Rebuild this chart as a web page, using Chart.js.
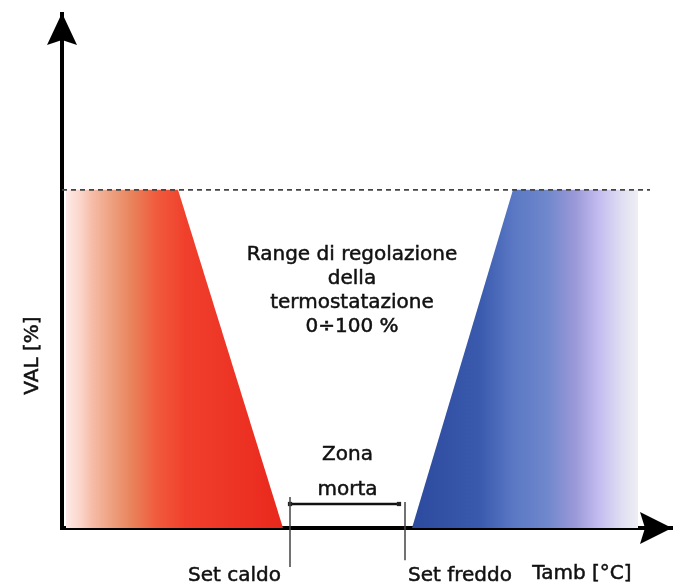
<!DOCTYPE html>
<html>
<head>
<meta charset="utf-8">
<script src="https://cdn.jsdelivr.net/npm/chart.js@4/dist/chart.umd.min.js"></script>
<style>
  html, body { margin: 0; padding: 0; background: #fff; }
  #wrap { width: 679px; height: 586px; position: relative; }
</style>
</head>
<body>
<div id="wrap"><canvas id="c" width="679" height="586"></canvas></div>
<script>
// ---- data ----
const xRange = [0, 61];            // Tamb axis (arbitrary units)
const yRange = [0, 152];           // VAL [%] axis
const rangeMax = 100;              // 100 % level (dashed line)
const dashedEnd = 58.8;
const heatX = [0.4, 11.6, 22.1];   // heating ramp
const heatY = [100, 100, 0];
const coolX = [35.0, 45.1, 57.6];  // cooling ramp
const coolY = [0, 100, 100];
const setCaldo = 22.8;
const setFreddo = 34.3;
const setCaldoLineY = [9.2, -11.5];
const setFreddoLineY = [7.7, -9.5];
const deadZoneY = 7.1;
const rangeText = ["Range di regolazione", "della", "termostatazione", "0÷100 %"];
const deadZoneText = ["Zona", "morta"];
const labelSetCaldo = "Set caldo";
const labelSetFreddo = "Set freddo";
const xAxisLabel = "Tamb [°C]";
const yAxisLabel = "VAL [%]";

const pts = (xs, ys) => xs.map((x, i) => ({ x: x, y: ys[i] }));

function makeGrad(ctx, x0v, x1v, stops, fallback) {
  const chart = ctx.chart;
  const xs = chart.scales.x;
  if (!chart.chartArea || !xs) return fallback;
  const p0 = xs.getPixelForValue(x0v), p1 = xs.getPixelForValue(x1v);
  if (!isFinite(p0) || !isFinite(p1)) return fallback;
  const g = chart.ctx.createLinearGradient(p0, 0, p1, 0);
  stops.forEach(s => g.addColorStop(s[0], s[1]));
  return g;
}
function heatGradient(ctx) {
  return makeGrad(ctx, heatX[0], heatX[2], [
    [0, '#fdeae6'], [0.07, '#fbd4c8'], [0.12, '#f6bca8'], [0.21, '#eea080'], [0.30, '#e8845c'],
    [0.42, '#f05a3c'], [0.55, '#f0402c'], [0.85, '#ec3022'], [1, '#e8281c']
  ], '#e8402c');
}
function coolGradient(ctx) {
  return makeGrad(ctx, coolX[0], coolX[2], [
    [0, '#2c4a9e'], [0.30, '#3a5aae'], [0.45, '#5a78c4'], [0.60, '#7088cc'],
    [0.72, '#9a98d8'], [0.83, '#c4bdf0'], [0.93, '#e0dff2'], [1, '#eeeef4']
  ], '#5070c0');
}

const FONT = '20px "DejaVu Sans", sans-serif';
const TXT = '#111';

function txt(ctx, t, x, y) {
  ctx.fillText(t, x, y);
  ctx.strokeText(t, x, y);
}

const decor = {
  id: 'decor',
  afterDatasetsDraw(chart) {
    const { ctx, scales: { x, y } } = chart;
    ctx.save();
    ctx.fillStyle = TXT;
    ctx.strokeStyle = TXT;
    ctx.lineWidth = 0.5;
    ctx.font = FONT;
    ctx.textAlign = 'center';
    ctx.textBaseline = 'middle';
    const cx = x.getPixelForValue(29.0);
    const cy = y.getPixelForValue(80.8);
    rangeText.forEach((t, i) => txt(ctx, t, cx, cy + i * 24));
    const dzx = x.getPixelForValue((setCaldo + setFreddo) / 2);
    const dzy = y.getPixelForValue(deadZoneY);
    deadZoneText.forEach((t, i) => txt(ctx, t, dzx, dzy - 49 + i * 35));
    const by = y.getPixelForValue(0) + 48;
    ctx.textAlign = 'right';
    txt(ctx, labelSetCaldo, x.getPixelForValue(setCaldo) - 9, by);
    ctx.textAlign = 'left';
    txt(ctx, labelSetFreddo, x.getPixelForValue(setFreddo) + 3, by);
    ctx.textAlign = 'center';
    txt(ctx, xAxisLabel, x.getPixelForValue(52.0), by - 2);
    ctx.save();
    ctx.translate(33, y.getPixelForValue(51));
    ctx.rotate(-Math.PI / 2);
    txt(ctx, yAxisLabel, 0, 0);
    ctx.restore();
    ctx.restore();
  },
  afterDraw(chart) {
    const { ctx, chartArea: a } = chart;
    ctx.save();
    ctx.fillStyle = '#000';
    const ax = a.left, top = a.top - 1;
    ctx.beginPath();
    ctx.moveTo(ax, top);
    ctx.lineTo(ax - 15, top + 32);
    ctx.lineTo(ax, top + 27);
    ctx.lineTo(ax + 15, top + 32);
    ctx.closePath();
    ctx.fill();
    const ay = a.bottom, right = a.right;
    ctx.beginPath();
    ctx.moveTo(right, ay);
    ctx.lineTo(right - 32, ay - 16);
    ctx.lineTo(right - 27, ay);
    ctx.lineTo(right - 32, ay + 16);
    ctx.closePath();
    ctx.fill();
    ctx.restore();
  }
};

new Chart(document.getElementById('c'), {
  type: 'scatter',
  data: {
    datasets: [
      {
        data: pts(heatX, heatY), showLine: true, fill: 'origin',
        backgroundColor: heatGradient, borderWidth: 0, pointRadius: 0, order: 5
      },
      {
        data: pts(coolX, coolY), showLine: true, fill: 'origin',
        backgroundColor: coolGradient, borderWidth: 0, pointRadius: 0, order: 5
      },
      {
        data: [{ x: xRange[0], y: rangeMax }, { x: dashedEnd, y: rangeMax }], showLine: true,
        borderColor: '#444', borderWidth: 1.8, borderDash: [5, 4], pointRadius: 0, fill: false, order: 1
      },
      {
        data: [{ x: setCaldo, y: setCaldoLineY[0] }, { x: setCaldo, y: setCaldoLineY[1] }], showLine: true,
        borderColor: '#444', borderWidth: 1.5, pointRadius: 0, fill: false, clip: false, order: 1
      },
      {
        data: [{ x: setFreddo, y: setFreddoLineY[0] }, { x: setFreddo, y: setFreddoLineY[1] }], showLine: true,
        borderColor: '#444', borderWidth: 1.5, pointRadius: 0, fill: false, clip: false, order: 1
      },
      {
        data: [{ x: setCaldo, y: deadZoneY }, { x: setFreddo - 0.6, y: deadZoneY }], showLine: true,
        borderColor: '#111', borderWidth: 2.5, pointRadius: 3, pointStyle: 'rect',
        pointBackgroundColor: '#222', pointBorderWidth: 0, fill: false, clip: false, order: 1
      }
    ]
  },
  options: {
    responsive: false,
    animation: false,
    events: [],
    layout: { padding: { left: 62, right: 7, top: 14, bottom: 58 } },
    plugins: { legend: { display: false }, tooltip: { enabled: false } },
    scales: {
      x: {
        type: 'linear', min: xRange[0], max: xRange[1],
        grid: { display: false, drawTicks: false },
        ticks: { display: false },
        border: { display: true, color: '#000', width: 4 },
        afterFit: s => { s.height = 0; }
      },
      y: {
        type: 'linear', min: yRange[0], max: yRange[1],
        grid: { display: false, drawTicks: false },
        ticks: { display: false },
        border: { display: true, color: '#000', width: 4 },
        afterFit: s => { s.width = 0; }
      }
    }
  },
  plugins: [decor]
});
</script>
</body>
</html>
